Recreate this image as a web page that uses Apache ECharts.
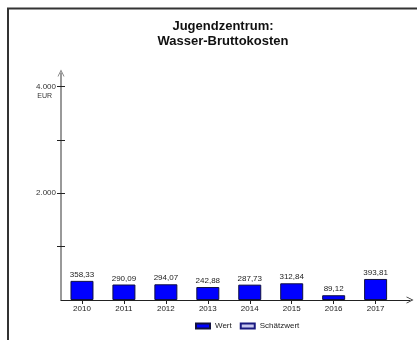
<!DOCTYPE html>
<html>
<head>
<meta charset="utf-8">
<script src="https://cdn.jsdelivr.net/npm/echarts@6/dist/echarts.min.js"></script>
<style>
html,body{margin:0;padding:0;background:#fff;}
#chart{width:417px;height:340px;}
</style>
</head>
<body>
<div id="chart"></div>
<script>
var categories = ['2010','2011','2012','2013','2014','2015','2016','2017'];
var wertValues = [358.33, 290.09, 294.07, 242.88, 287.73, 312.84, 89.12, 393.81];
var schaetzValues = [];
var yTickValues = [1000, 2000, 3000, 4000];
var yLabelValues = [2000, 4000];
var titleLines = ['Jugendzentrum:', 'Wasser-Bruttokosten'];

var FONT = '"Liberation Sans", Arial, sans-serif';
function de(v, d) {
  var s = v.toFixed(d).split('.');
  var i = s[0].replace(/\B(?=(\d{3})+(?!\d))/g, '.');
  return d ? i + ',' + s[1] : i;
}
var xPositions = categories.map(function (c, i) { return i + 0.5; });
var wertData = wertValues.map(function (v, i) { return [xPositions[i], v]; });
var chevron = 'path://M0,10 L5,0 L10,10 L8.8,10 L5,2.4 L1.2,10 Z';

var chart = echarts.init(document.getElementById('chart'), null, {renderer: 'canvas'});
chart.setOption({
  animation: false,
  backgroundColor: '#fff',
  textStyle: {fontFamily: FONT},
  title: {
    text: titleLines.join('\n'),
    left: 223, top: 19, padding: 0,
    textAlign: 'center',
    textStyle: {fontFamily: FONT, fontSize: 13, fontWeight: 'bold', color: '#111', lineHeight: 15}
  },
  graphic: [{
    type: 'rect', shape: {x: 8, y: 8.5, width: 430, height: 350},
    style: {fill: 'none', stroke: '#333', lineWidth: 2}, silent: true, z: -1
  }],
  legend: {
    data: ['Wert', 'Schätzwert'],
    left: 190, top: 317,
    itemWidth: 14, itemHeight: 5, itemGap: 8,
    textStyle: {fontFamily: FONT, fontSize: 8, color: '#222'},
    icon: 'rect'
  },
  grid: {left: 61, right: 7, top: 73, bottom: 40, containLabel: false},
  xAxis: {
    type: 'value', min: 0, max: 8.32,
    splitLine: {show: false},
    axisLine: {show: true, lineStyle: {color: '#222', width: 1}, symbol: ['none', chevron], symbolSize: [7, 9]},
    axisTick: {show: true, length: 4, customValues: xPositions, lineStyle: {color: '#222'}},
    axisLabel: {
      show: true, customValues: xPositions, fontSize: 8, color: '#222', margin: 5,
      formatter: function (v) { return categories[Math.round(v - 0.5)] || ''; }
    }
  },
  yAxis: [{
    type: 'value', min: 0, max: 4250, position: 'left',
    splitLine: {show: false},
    axisLine: {show: true, lineStyle: {color: '#777', width: 1.5}, symbol: ['none', chevron], symbolSize: [7, 9]},
    axisTick: {show: true, length: 4, customValues: yTickValues, lineStyle: {color: '#222'}},
    axisLabel: {
      show: true, customValues: yLabelValues, fontSize: 8, color: '#333', margin: 5,
      formatter: function (v) {
        return v === 4000 ? '{z|}\n{a|' + de(v, 0) + '}\n{b|EUR}' : '{a|' + de(v, 0) + '}';
      },
      rich: {
        z: {fontSize: 8, lineHeight: 10},
        a: {fontSize: 8, lineHeight: 10, color: '#333', fontFamily: FONT},
        b: {fontSize: 7, lineHeight: 10, color: '#333', fontFamily: FONT, padding: [0, 4, 0, 0]}
      }
    }
  }, {
    type: 'value', min: 0, max: 4250, position: 'left', offset: 0,
    splitLine: {show: false},
    axisLine: {show: false},
    axisTick: {show: true, inside: true, length: 4, customValues: yTickValues, lineStyle: {color: '#222'}},
    axisLabel: {show: false}
  }],
  series: [{
    name: 'Wert', type: 'bar', data: wertData, barWidth: 23, barGap: '-100%',
    itemStyle: {color: '#0000FF', borderColor: '#101040', borderWidth: 1},
    label: {
      show: true, position: 'top', distance: 2, fontSize: 8, color: '#222', fontFamily: FONT,
      formatter: function (p) { return de(p.value[1], 2); }
    }
  }, {
    name: 'Schätzwert', type: 'bar', data: schaetzValues, barWidth: 23, barGap: '-100%',
    itemStyle: {color: '#c8c8f0', borderColor: '#1a1a80', borderWidth: 1}
  }]
});
</script>
</body>
</html>
